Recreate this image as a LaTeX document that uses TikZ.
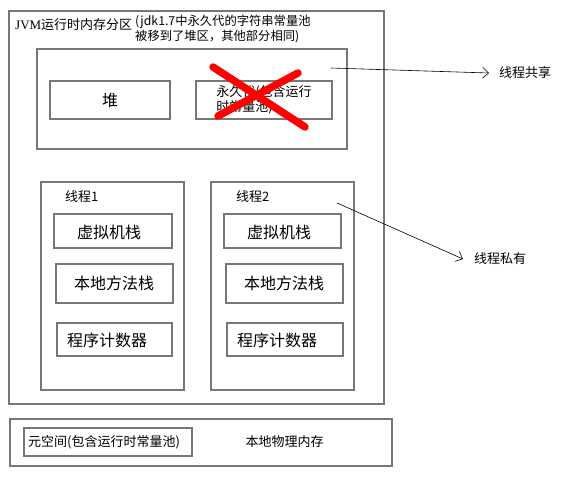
\documentclass[tikz,border=0pt]{standalone}
\usepackage{fontspec}
\setmainfont{Noto Sans CJK SC}
\newfontfamily\serifjvm{Liberation Serif}
\usetikzlibrary{arrows.meta}
\definecolor{boxgray}{HTML}{777777}
\tikzset{
  box/.style={draw=boxgray, line width=1.3pt, inner sep=0pt, minimum width=#1},
  box/.default=10pt,
  bigtxt/.style={font=\fontsize{16}{18}\selectfont},
  smtxt/.style={font=\fontsize{13}{15}\selectfont},
  notetxt/.style={font=\fontsize{12.3}{15}\selectfont},
  ptr/.style={draw=black, line width=0.6pt, -{Straight Barb[length=6pt,width=11pt]}},
  crossline/.style={draw=red, line width=7.5pt, line cap=round}
}
\begin{document}
\begin{tikzpicture}[x=1pt,y=-1pt]
\useasboundingbox (0,0) rectangle (569,480);
% outer JVM box
\node[box, minimum width=375pt, minimum height=393pt] (jvm) at (196.5,207.5) {};
\node[smtxt, anchor=west, inner sep=0pt] (title) at (15,25) {{\serifjvm JVM}运行时内存分区};
\node[notetxt, anchor=north west, inner sep=0pt, align=left] (note) at (135,15) {(jdk1.7中永久代的字符串常量池\\被移到了堆区，其他部分相同)};
% shared area
\node[box, minimum width=310pt, minimum height=100pt] (shared) at (192,99) {};
\node[box, bigtxt, minimum width=120pt, minimum height=38pt] (heap) at (110,100) {堆};
\node[box, smtxt, minimum width=136pt, minimum height=38pt, align=left] (perm) at (264,100) {永久代(包含运行\\时常量池)};
% red cross
\draw[crossline] (213,67) -- (305,127);
\draw[crossline] (298,73) -- (218,116);
% thread 1
\node[box, minimum width=143pt, minimum height=208pt] (t1) at (112.5,286) {};
\node[smtxt, anchor=west, inner sep=0pt] (t1l) at (65,197) {线程1};
\node[box, minimum width=118pt, minimum height=34pt] (vs1) at (113,231) {};
\node[bigtxt, inner sep=0pt] (vs1t) at (109,232) {虚拟机栈};
\node[box, minimum width=117pt, minimum height=39pt] (ns1) at (114.5,283.5) {};
\node[bigtxt, inner sep=0pt] (ns1t) at (114,283) {本地方法栈};
\node[box, minimum width=115pt, minimum height=33pt] (pc1) at (114.5,339.5) {};
\node[bigtxt, inner sep=0pt] (pc1t) at (107,340) {程序计数器};
% thread 2
\node[box, minimum width=143pt, minimum height=208pt] (t2) at (282.5,286) {};
\node[smtxt, anchor=west, inner sep=0pt] (t2l) at (236,197) {线程2};
\node[box, minimum width=117pt, minimum height=34pt] (vs2) at (282.5,231) {};
\node[bigtxt, inner sep=0pt] (vs2t) at (279,232) {虚拟机栈};
\node[box, minimum width=117pt, minimum height=39pt] (ns2) at (284.5,283.5) {};
\node[bigtxt, inner sep=0pt] (ns2t) at (284,283) {本地方法栈};
\node[box, minimum width=116pt, minimum height=33pt] (pc2) at (285,339.5) {};
\node[bigtxt, inner sep=0pt] (pc2t) at (277,340) {程序计数器};
% bottom native memory
\node[box, minimum width=382pt, minimum height=47pt] (native) at (201,442.5) {};
\node[box, minimum width=168pt, minimum height=28pt] (meta) at (108,442) {};
\node[smtxt, anchor=west, inner sep=0pt] (metat) at (28,442) {元空间(包含运行时常量池)};
\node[smtxt, inner sep=0pt] (nativet) at (284.5,442) {本地物理内存};
% pointers
\coordinate (sharedpt) at (331,68);
\coordinate (privpt) at (337,203);
\node[smtxt, anchor=west, inner sep=0pt] (sharedl) at (499,73) {线程共享};
\node[smtxt, anchor=west, inner sep=0pt] (privl) at (474,259) {线程私有};
\draw[ptr] (sharedpt) -- (489,73);
\draw[ptr] (privpt) -- (463,259);
\end{tikzpicture}
\end{document}
